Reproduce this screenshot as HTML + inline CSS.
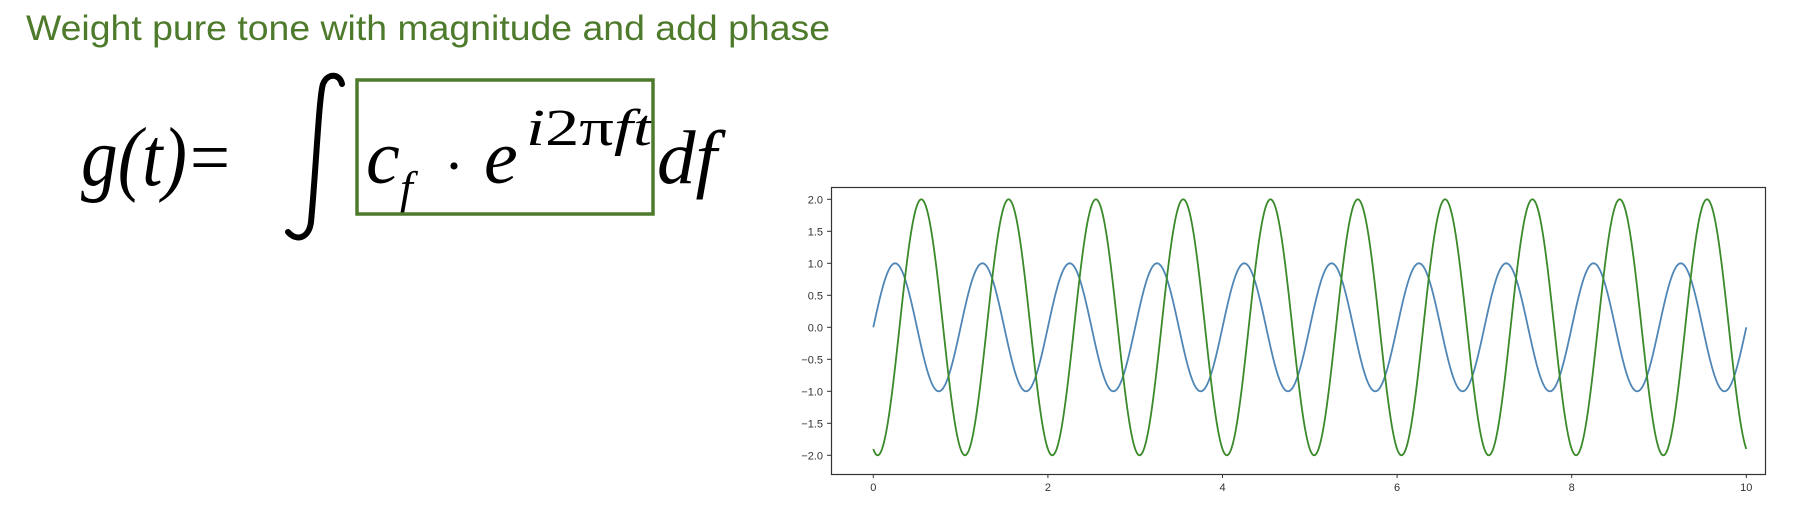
<!DOCTYPE html>
<html><head><meta charset="utf-8"><style>
html,body{margin:0;padding:0;background:#fff;width:1804px;height:506px;overflow:hidden}
svg{position:absolute;left:0;top:0}
</style></head><body>
<svg width="1804" height="506" xmlns="http://www.w3.org/2000/svg">
<text x="26" y="40" font-family="Liberation Sans, sans-serif" font-size="35" fill="#4e7a2c" textLength="804" lengthAdjust="spacingAndGlyphs">Weight pure tone with magnitude and add phase</text>
<g font-family="Liberation Serif, serif" fill="#000">
<text x="81" y="185" font-size="84" font-style="italic" textLength="106" lengthAdjust="spacingAndGlyphs">g(t)</text>
<text x="190" y="183" font-size="76" textLength="40" lengthAdjust="spacingAndGlyphs">=</text>
<path d="M342,84 C340,74 328,72 323,84 C319,96 316,170 311,222 C309,238 297,242 288,232" fill="none" stroke="#000" stroke-width="6" stroke-linecap="round"/>
<text x="366" y="183" font-size="76" font-style="italic">c</text>
<text x="400" y="203" font-size="46" font-style="italic">f</text>
<text x="444" y="186" font-size="60">·</text>
<text x="484" y="183" font-size="76" font-style="italic">e</text>
<text x="526" y="145" font-size="52" font-style="italic" textLength="126" lengthAdjust="spacingAndGlyphs">i<tspan font-style="normal">2π</tspan>ft</text>
<text x="657" y="183" font-size="76" font-style="italic" textLength="60" lengthAdjust="spacingAndGlyphs">df</text>
</g>
<rect x="357" y="80" width="296" height="134" fill="none" stroke="#4e7a2c" stroke-width="3.5"/>
<g id="chart"></g>
</svg>
<script>
const xTicks=[0,2,4,6,8,10];
const yTicks=[2.0,1.5,1.0,0.5,0.0,-0.5,-1.0,-1.5,-2.0];
const seriesNames=["pure-tone","weighted-tone"];
const amplitudes=[1,2];
const frequencies=[1,1];
const phases=[0,-1.885];
const tRange=[0,10];
const colors=["#4f86b5","#3a8a2a"];
const NS="http://www.w3.org/2000/svg";
const L=831,R=1765,T=187,B=474;
const xs=t=>873.3+t*87.3;
const ys=v=>327.3-v*64;
const g=document.getElementById('chart');
function mk(tag,at){const e=document.createElementNS(NS,tag);for(const k in at)e.setAttribute(k,at[k]);g.appendChild(e);return e;}
const fr=mk('rect',{x:L+.5,y:T+.5,width:R-L,height:B-T,fill:'none',stroke:'#333','stroke-width':1.2});


yTicks.forEach(v=>{
 const y=ys(v);
 const tk=mk('line',{x1:L-4,x2:L,y1:y,y2:y,stroke:'#333'});
 
 
 const tx=mk('text',{x:L-8,y:y+4,'text-anchor':'end','font-family':'Liberation Sans, sans-serif','font-size':11,fill:'#333'});
 tx.textContent=(v<0?'\u2212':'')+Math.abs(v).toFixed(1);
 
 
});
xTicks.forEach(v=>{
 const x=xs(v);
 const tk=mk('line',{x1:x,x2:x,y1:B,y2:B+4,stroke:'#333'});
 
 
 const tx=mk('text',{x:x,y:B+17,'text-anchor':'middle','font-family':'Liberation Sans, sans-serif','font-size':11,fill:'#333'});
 tx.textContent=String(v);
 
 
});
seriesNames.forEach((n,i)=>{
 let d='';const N=1000;
 for(let k=0;k<=N;k++){const t=tRange[0]+(tRange[1]-tRange[0])*k/N;
  const v=amplitudes[i]*Math.sin(2*Math.PI*frequencies[i]*t+phases[i]);
  d+=(k?'L':'M')+xs(t).toFixed(2)+','+ys(v).toFixed(2);}
 const p=mk('path',{d:d,fill:'none',stroke:colors[i],'stroke-width':1.8});
 
 
});
</script>
</body></html>
